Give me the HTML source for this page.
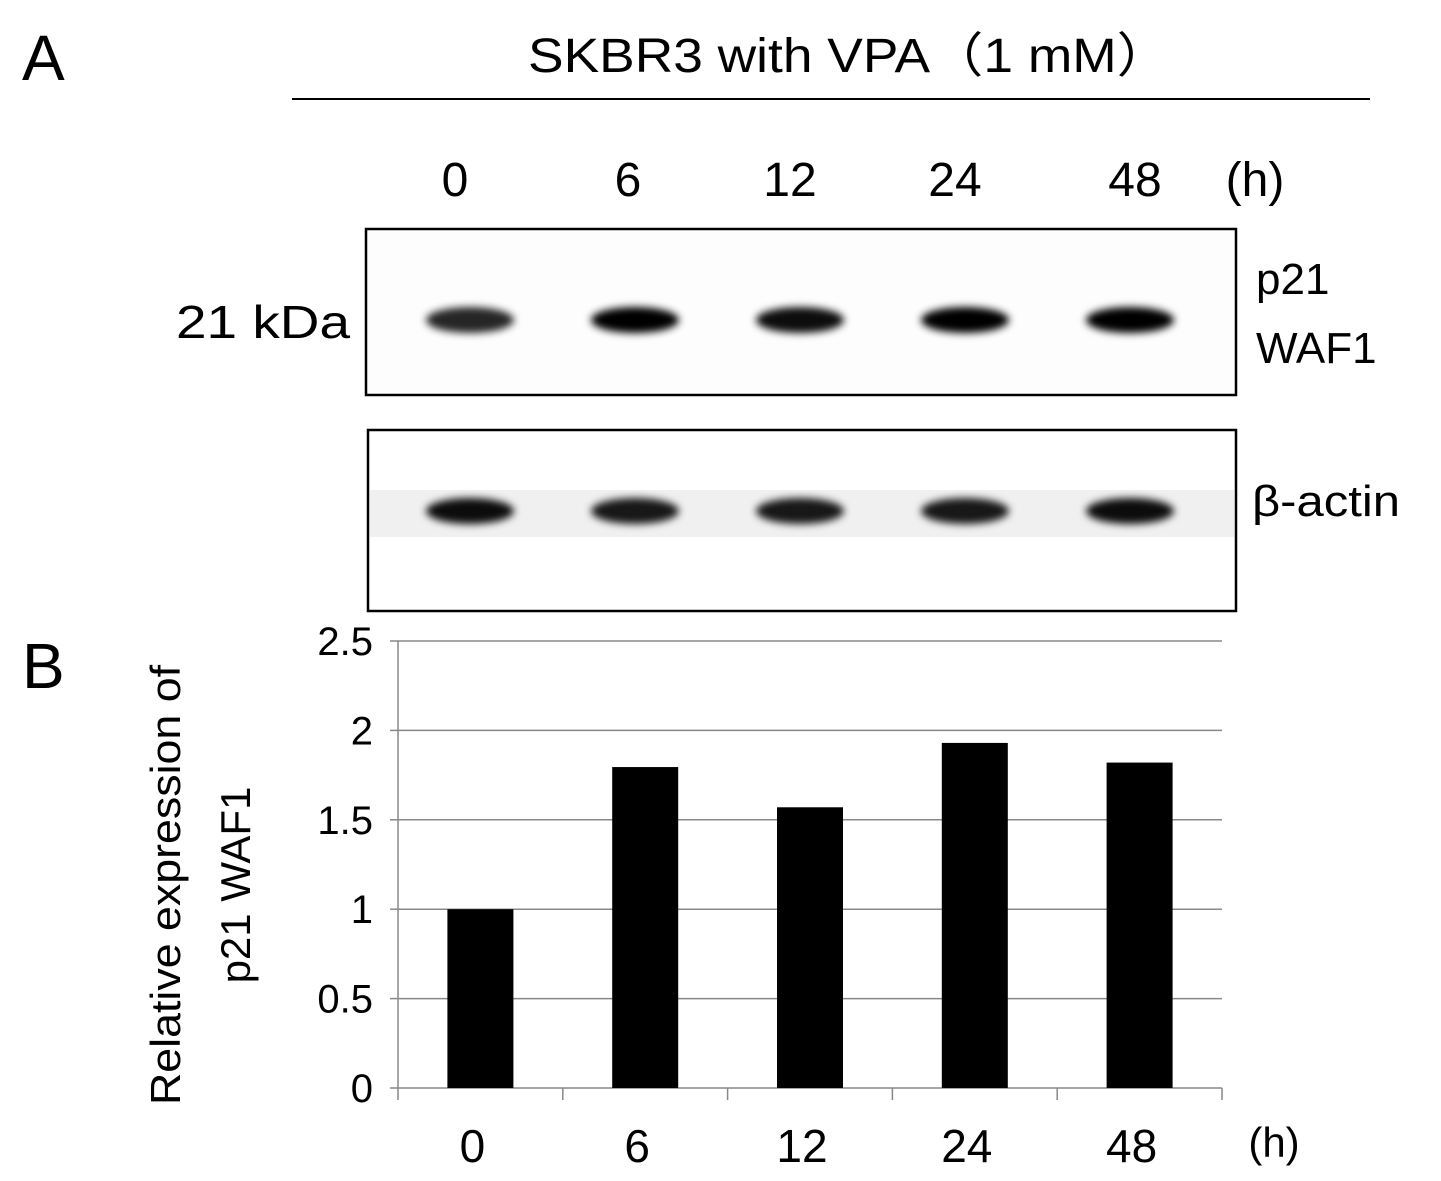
<!DOCTYPE html>
<html><head><meta charset="utf-8"><style>
html,body{margin:0;padding:0;background:#fff;}
svg{display:block;font-family:"Liberation Sans",sans-serif;}
</style></head><body>
<svg id="fig" width="1441" height="1181" viewBox="0 0 1441 1181">
<defs><filter id="blur" x="-20%" y="-50%" width="140%" height="200%"><feGaussianBlur stdDeviation="4"/></filter></defs>
<text x="22" y="80" font-size="64">A</text>
<text x="528" y="72" font-size="48" textLength="642" lengthAdjust="spacingAndGlyphs">SKBR3 with  VPA（1 mM）</text>
<line x1="292" y1="99" x2="1370" y2="99" stroke="#000" stroke-width="2"/>
<g font-size="48" text-anchor="middle">
<text x="455" y="196">0</text><text x="628" y="196">6</text><text x="790" y="196">12</text><text x="955" y="196">24</text><text x="1135" y="196">48</text><text x="1255" y="196">(h)</text></g>
<rect x="366" y="229" width="870" height="166" fill="#fdfdfd" stroke="#000" stroke-width="2.5"/>
<g id="p21bands" filter="url(#blur)"></g>
<text x="176" y="338" font-size="46" textLength="174" lengthAdjust="spacingAndGlyphs">21 kDa</text>
<text x="1256" y="294" font-size="44">p21</text>
<text x="1256" y="363" font-size="44">WAF1</text>
<rect x="368" y="430" width="868" height="181" fill="#fff" stroke="#000" stroke-width="2.5"/>
<rect x="370" y="490" width="864" height="47" fill="#f0f0f0"/>
<g id="actinbands" filter="url(#blur)"></g>
<text x="1252" y="516" font-size="44" textLength="148" lengthAdjust="spacingAndGlyphs">β-actin</text>
<text x="22" y="688" font-size="64">B</text>
<g id="chart"></g>
<g transform="translate(180,885) rotate(-90)" font-size="42" text-anchor="middle">
<text x="0" y="0" textLength="440" lengthAdjust="spacingAndGlyphs">Relative expression of</text><text x="0" y="70">p21 WAF1</text></g>
</svg>
<script>
const categories=["0","6","12","24","48"];
const values=[1.0,1.795,1.57,1.93,1.82];
const yTicks=[0,0.5,1,1.5,2,2.5];
const yTickLabels=["0","0.5","1","1.5","2","2.5"];
const p21Darkness=[0.85,1,0.95,1,1];
const actinDarkness=[0.95,0.9,0.9,0.9,0.95];
const NS="http://www.w3.org/2000/svg";
function mk(t,a,p){const e=document.createElementNS(NS,t);for(const k in a)e.setAttribute(k,a[k]);p.appendChild(e);return e;}
const x0=398,x1=1222,yb=1088,yt=641,ymax=2.5;
const bw=(x1-x0)/categories.length;
const xC=i=>x0+bw*(i+0.5);
const yS=v=>yb-(v/ymax)*(yb-yt);
const chart=document.getElementById('chart');
yTicks.forEach((t,i)=>{
 if(t>0){const l=mk('line',{x1:x0,x2:x1,y1:yS(t),y2:yS(t),stroke:'#888','stroke-width':1.5},chart);
 
 }
 const tx=mk('text',{x:x0-25,y:yS(t)+14,'font-size':40,'text-anchor':'end'},chart);tx.textContent=yTickLabels[i];
 
 
 mk('line',{x1:x0-8,x2:x0,y1:yS(t),y2:yS(t),stroke:'#888','stroke-width':1.5},chart);
});
mk('line',{x1:x0,x2:x0,y1:yt,y2:yb,stroke:'#888','stroke-width':1.5},chart);
mk('line',{x1:x0,x2:x1,y1:yb,y2:yb,stroke:'#888','stroke-width':1.5},chart);
for(let i=0;i<=categories.length;i++)mk('line',{x1:x0+bw*i,x2:x0+bw*i,y1:yb,y2:yb+12,stroke:'#888','stroke-width':1.5},chart);
values.forEach((v,i)=>{
 const r=mk('rect',{x:xC(i)-33,y:yS(v),width:66,height:yb-yS(v),fill:'#000'},chart);
 
 
 const t=mk('text',{x:xC(i)-8,y:1162,'font-size':46,'text-anchor':'middle'},chart);t.textContent=categories[i];
 
 
});
const u=mk('text',{x:1274,y:1157,'font-size':42,'text-anchor':'middle'},chart);u.textContent='(h)';


const bandX=[470,635,800,965,1130];
const pg=document.getElementById('p21bands'),ag=document.getElementById('actinbands');
categories.forEach((c,i)=>{
 const a=mk('ellipse',{cx:bandX[i],cy:320,rx:44,ry:13,fill:'#000','fill-opacity':p21Darkness[i]},pg);
 
 
 const b=mk('ellipse',{cx:bandX[i],cy:511,rx:44,ry:13,fill:'#000','fill-opacity':actinDarkness[i]},ag);
 
 
});
</script>
</body></html>
